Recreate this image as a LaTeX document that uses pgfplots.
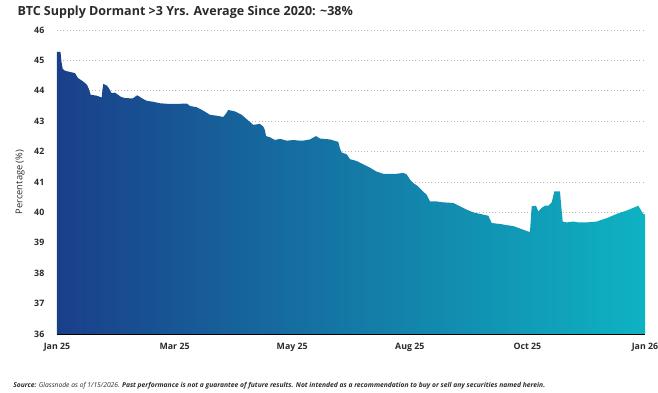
\documentclass[border=0pt]{standalone}
\usepackage{pgfplots}
\pgfplotsset{compat=1.18}
\usepackage{fontspec}
\setmainfont{Open Sans}
\definecolor{cleft}{HTML}{1A3F8A}
\definecolor{cright}{HTML}{0EB3C2}
\definecolor{gridc}{HTML}{B5B5B5}
\definecolor{txt}{HTML}{2A2A2A}
\begin{document}
\begin{tikzpicture}
\path[use as bounding box] (-42.75pt,-44.25pt) rectangle (450.75pt,250.5pt);
\begin{axis}[
  at={(0,0)}, anchor=south west,
  scale only axis, width=441pt, height=228pt,
  xmin=57, xmax=645, ymin=36, ymax=46,
  ytick={36,37,38,39,40,41,42,43,44,45,46},
  xtick={57,174.6,292.2,409.8,527.4,645},
  xticklabels={Jan 25,Mar 25,May 25,Aug 25,Oct 25,Jan 26},
  separate axis lines,
  axis x line*=bottom, axis y line*=left,
  x axis line style={black, line width=0.7pt, -},
  y axis line style={draw=none},
  major tick length=0pt,
  ymajorgrids, grid style={gridc, dotted, line width=0.5pt},
  tick label style={font=\fontsize{6.6}{8}\selectfont\bfseries, text=txt},
  /pgf/number format/assume math mode=true,
  yticklabel shift=6pt,
  xticklabel shift=3pt,
  ylabel={Percentage (\%)},
  ylabel style={at={(axis description cs:-0.0629,0.5)}, rotate=0, anchor=center, font=\fontsize{7}{8}\selectfont, text=txt},
  clip=false,
]
\addplot[draw=none, left color=cleft, right color=cright] table {
x y
57 45.28
60.5 45.28
61.5 44.95
62.7 44.72
65 44.66
70 44.62
75 44.58
78 44.42
83 44.31
87 44.20
89 44.05
90.7 43.87
96.7 43.84
101.7 43.78
102.5 44.05
103.3 44.23
107 44.17
109 44.08
111.7 43.92
115 43.94
118 43.87
121 43.80
125 43.76
132.7 43.75
135 43.80
137 43.85
139 43.82
141.7 43.76
146.7 43.67
153 43.64
160 43.59
168 43.57
176.7 43.57
187 43.58
190 43.50
196.7 43.46
203 43.35
210 43.21
216.7 43.18
223.3 43.14
226 43.25
228.3 43.37
235 43.32
241.7 43.21
248.3 43.02
253.3 42.88
260 42.91
263.3 42.82
265 42.70
266 42.51
270 42.47
275 42.38
280 42.42
286.7 42.36
293.3 42.38
300 42.36
303 42.36
310 42.40
316 42.51
320 42.43
330 42.40
338.3 42.32
340 42.10
341.7 41.97
346.7 41.91
350 41.75
356.7 41.69
363.3 41.58
370 41.47
376.7 41.34
383.3 41.27
396.7 41.27
403.3 41.30
406.7 41.25
410 41.08
413 40.97
418 40.86
423 40.69
426.7 40.58
430 40.36
436.7 40.36
443.3 40.33
453.3 40.31
460 40.20
466.7 40.09
473.3 40.00
480 39.95
488.3 39.89
491.7 39.65
500 39.62
506.7 39.58
513.3 39.55
520 39.47
525 39.41
528.3 39.37
530 39.37
531.7 40.20
536 40.22
538.3 40.03
541.7 40.15
545 40.22
548.3 40.22
551.7 40.33
554.3 40.69
560 40.69
561 40.30
562.7 39.70
566.7 39.67
573.3 39.70
578.3 39.67
586.7 39.67
596.7 39.70
606.7 39.81
616.7 39.95
626.7 40.06
638.3 40.22
640.7 40.09
643.3 39.95
645 39.93
} \closedcycle;
\end{axis}
\node[anchor=west, font=\fontsize{9.4}{11}\selectfont\bfseries, text=txt] at (-33pt,241.5pt) {BTC Supply Dormant >3 Yrs. Average Since 2020: \textasciitilde 38\%};
\node[anchor=west, font=\fontsize{5.05}{6}\selectfont\itshape, text=txt, inner sep=0pt] at (-33pt,-39pt) {\textbf{Source:} Glassnode as of 1/15/2026. \textbf{Past performance is not a guarantee of future results. Not intended as a recommendation to buy or sell any securities named herein.}};
\end{tikzpicture}
\end{document}
